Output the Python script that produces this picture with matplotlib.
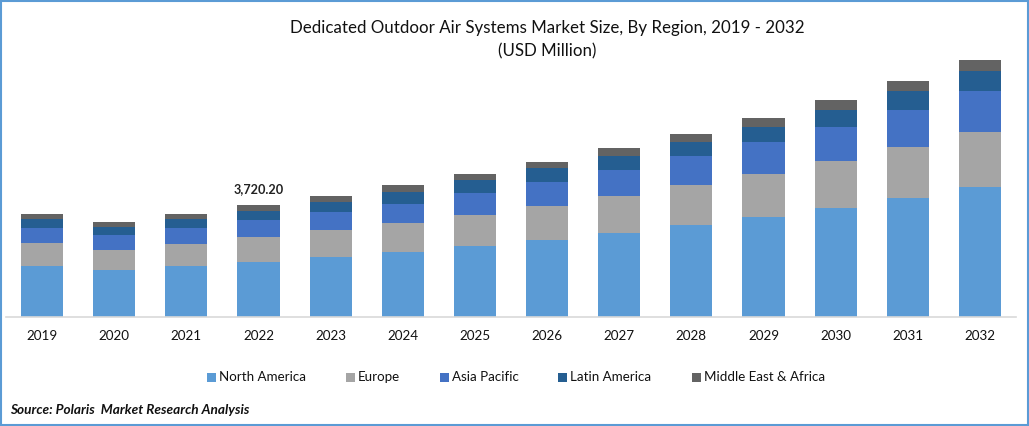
import matplotlib
matplotlib.use("Agg")
import matplotlib.pyplot as plt
from matplotlib.patches import Rectangle

years = list(range(2019, 2033))
north_america = [1693, 1560, 1693, 1828, 1992, 2158, 2357, 2556, 2789, 3054, 3320, 3619, 3951, 4316]
europe = [764, 664, 730, 830, 896, 963, 1029, 1129, 1228, 1328, 1428, 1560, 1693, 1826]
asia_pacific = [498, 498, 531, 564, 598, 631, 730, 797, 863, 963, 1062, 1129, 1228, 1361]
latin_america = [299, 266, 299, 299, 332, 398, 432, 465, 465, 465, 498, 564, 631, 664]
middle_east = [166, 166, 166, 199, 199, 232, 199, 199, 266, 266, 299, 332, 332, 365]
series = [north_america, europe, asia_pacific, latin_america, middle_east]
names = ["North America", "Europe", "Asia Pacific", "Latin America", "Middle East & Africa"]
colors = ["#5B9BD5", "#A5A5A5", "#4472C4", "#255E91", "#636363"]
legend_x = [207, 346, 440, 558, 692]

W, H = 1029, 426
plt.rcParams["font.family"] = ["Lato", "DejaVu Sans"]
fig = plt.figure(figsize=(W / 100, H / 100), dpi=100, facecolor="white")
ax = fig.add_axes([6 / W, 1 - 317 / H, 1010 / W, 267 / H])

bottom = [0] * len(years)
for vals, color in zip(series, colors):
    ax.bar(range(len(years)), vals, 0.585, bottom=bottom, color=color, linewidth=0)
    bottom = [b + v for b, v in zip(bottom, vals)]

ax.set_xlim(-0.5, 13.5)
ax.set_ylim(0, 8864)
ax.set_yticks([])
ax.set_xticks(range(len(years)))
ax.set_xticklabels(years, fontsize=9.7, color="#111111")
ax.tick_params(axis="x", length=0, pad=9)
for s in ["top", "left", "right"]:
    ax.spines[s].set_visible(False)
ax.spines["bottom"].set_color("#D9D9D9")
ax.spines["bottom"].set_linewidth(1.2)

ax.text(3, bottom[3] + 330, "3,720.20", ha="center", va="bottom", fontsize=9.1, fontweight="bold", color="#222222")

fig.text(547.5 / W, 1 - 28 / H, "Dedicated Outdoor Air Systems Market Size, By Region, 2019 - 2032",
         ha="center", va="center", fontsize=12.2, color="#111111")
fig.text(547 / W, 1 - 51 / H, "(USD Million)", ha="center", va="center", fontsize=12.2, color="#111111")

for x, name, color in zip(legend_x, names, colors):
    fig.add_artist(Rectangle((x / W, 1 - 381.5 / H), 9 / W, 9 / H, transform=fig.transFigure, color=color, lw=0))
    fig.text((x + 12) / W, 1 - 377 / H, name, ha="left", va="center", fontsize=9.6, color="#111111")

fig.text(10.5 / W, 1 - 410 / H, "Source: Polaris  Market Research Analysis", ha="left", va="center",
         fontsize=9.8, fontweight="bold", fontstyle="italic", color="#111111")

fig.add_artist(Rectangle((1 / W, 1 / H), (W - 2) / W, (H - 2) / H, transform=fig.transFigure,
                         fill=False, edgecolor="#5B9BD5", linewidth=1.5))
fig.savefig("out.png", dpi=100)
